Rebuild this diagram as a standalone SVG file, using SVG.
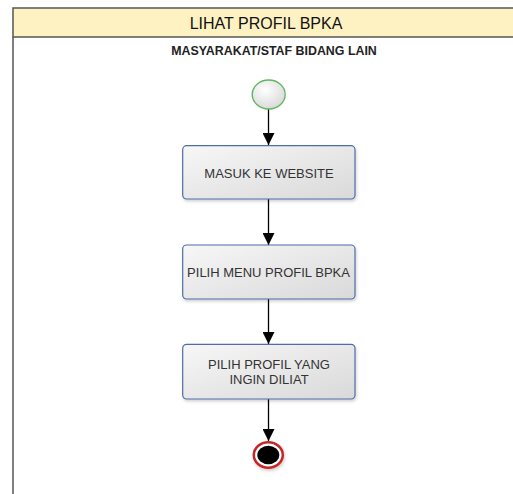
<svg xmlns="http://www.w3.org/2000/svg" width="513" height="494" viewBox="0 0 513 494">
<defs>
<linearGradient id="boxg" x1="0" y1="0" x2="1" y2="1">
<stop offset="0" stop-color="#f7f7f7"/>
<stop offset="1" stop-color="#d9d9d9"/>
</linearGradient>
<radialGradient id="startg" cx="0.4" cy="0.35" r="0.7">
<stop offset="0" stop-color="#ffffff"/>
<stop offset="1" stop-color="#d8d8d8"/>
</radialGradient>
<marker id="arr" markerWidth="12" markerHeight="12" refX="12" refY="6" orient="auto" markerUnits="userSpaceOnUse">
<path d="M0,0 L12,6 L0,12 Z" fill="#000"/>
</marker>
<filter id="sh" x="-10%" y="-10%" width="130%" height="140%">
<feDropShadow dx="1" dy="2" stdDeviation="1.5" flood-color="#000" flood-opacity="0.18"/>
</filter>
</defs>
<style>
.box{fill:url(#boxg);stroke:#4e6ea6;stroke-width:1.2;filter:url(#sh)}
.lbl{font-family:"Liberation Sans",Arial,sans-serif;font-size:13px;fill:#333;text-anchor:middle}
.conn{stroke:#000;stroke-width:1.3;fill:none;marker-end:url(#arr)}
</style>
<g id="frame">
<rect x="13" y="8" width="510" height="29" fill="#fff2c2" stroke="#555" stroke-width="1.5"/>
<line x1="13" y1="37" x2="13" y2="494" stroke="#555" stroke-width="1.5"/>
<text x="266" y="28.5" font-family="'Liberation Sans',Arial,sans-serif" font-size="16" fill="#111" text-anchor="middle">LIHAT PROFIL BPKA</text>
<text x="274" y="55" font-family="'Liberation Sans',Arial,sans-serif" font-size="12.4" font-weight="bold" fill="#222" text-anchor="middle">MASYARAKAT/STAF BIDANG LAIN</text>
</g>
<g id="connectors">
<line class="conn" x1="268.5" y1="109" x2="268.5" y2="145"/>
<line class="conn" x1="268.5" y1="199" x2="268.5" y2="245"/>
<line class="conn" x1="268.5" y1="299" x2="268.5" y2="344"/>
<line class="conn" x1="268.5" y1="399" x2="268.5" y2="441"/>
</g>
<g id="start">
<ellipse cx="268.7" cy="94.5" rx="16.5" ry="14.5" fill="url(#startg)" stroke="#5cb85c" stroke-width="1.3"/>
</g>
<g id="node1">
<rect class="box" x="182.7" y="145.7" width="172.3" height="53.3" rx="4"/>
<text class="lbl" x="269" y="178">MASUK KE WEBSITE</text>
</g>
<g id="node2">
<rect class="box" x="182.7" y="245" width="172.3" height="54" rx="4"/>
<text class="lbl" x="268.5" y="276.5">PILIH MENU PROFIL BPKA</text>
</g>
<g id="node3">
<rect class="box" x="182.7" y="344.3" width="172.3" height="54.7" rx="4"/>
<text class="lbl" x="269" y="369.3">PILIH PROFIL YANG</text>
<text class="lbl" x="269" y="383.5">INGIN DILIAT</text>
</g>
<g id="end">
<ellipse cx="268.3" cy="455" rx="14.5" ry="12.8" fill="#fff" stroke="#c62828" stroke-width="2.5" filter="url(#sh)"/>
<ellipse cx="268.3" cy="455" rx="11" ry="9.2" fill="#000"/>
</g>
</svg>
